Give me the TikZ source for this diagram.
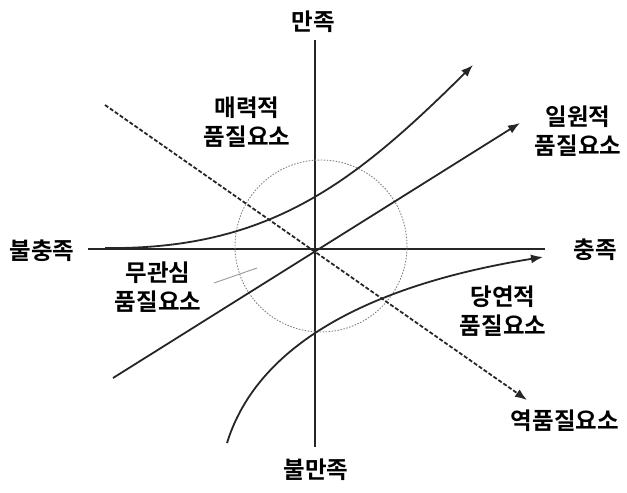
\documentclass[tikz,border=0pt]{standalone}
\usepackage{fontspec}
\setmainfont{Noto Sans CJK KR Bold}
\usetikzlibrary{arrows.meta}

\begin{document}
\begin{tikzpicture}[x=1pt,y=-1pt,
  lbl/.style={font=\fontsize{23.5}{29}\selectfont, align=center, inner sep=0pt},
  axis/.style={line width=1.8pt, black!85},
  curve/.style={line width=1.8pt, black!85, -{Latex[length=12pt,width=9pt]}}]
  \useasboundingbox (0,0) rectangle (627,493);
  \coordinate (vtop) at (315,40);
  \coordinate (vbot) at (315,447);
  \coordinate (hleft) at (88,249);
  \coordinate (hright) at (545,249);
  \coordinate (mid) at (321,246);
  \draw[axis] (vtop) -- (vbot);
  \draw[axis] (hleft) -- (hright);
  \draw[gray, line width=0.9pt, dash pattern=on 1.5pt off 1.5pt] (mid) circle (86);
  \node[lbl] (sat) at (313,22) {만족};
  \node[lbl] (dissat) at (316,470) {불만족};
  \node[lbl] (unful) at (42,251) {불충족};
  \node[lbl] (ful) at (595,250) {충족};
  \node[lbl] (attr) at (247,122) {매력적\\품질요소};
  \node[lbl] (onedim) at (578,131) {일원적\\품질요소};
  \node[lbl] (indiff) at (158,287) {무관심\\품질요소};
  \node[lbl] (must) at (503,311) {당연적\\품질요소};
  \node[lbl] (rev) at (565,421) {역품질요소};
  \coordinate (a0) at (105,248);
  \coordinate (a1) at (473,65);
  \coordinate (o0) at (113,378);
  \coordinate (o1) at (520,123);
  \coordinate (m0) at (227,443);
  \coordinate (m1) at (543,257);
  \coordinate (r0) at (105,105);
  \coordinate (r1) at (527,400);
  \coordinate (i0) at (214,283);
  \coordinate (i1) at (257,268);
  \draw[curve] (a0) .. controls (270,250) and (355,182) .. (a1);
  \draw[curve] (o0) -- (o1);
  \draw[curve] (m0) .. controls (262,330) and (400,280) .. (m1);
  \draw[curve, dash pattern=on 4pt off 2pt] (r0) -- (r1);
  \draw[gray!80, line width=0.9pt] (i0) -- (i1);
\end{tikzpicture}
\end{document}
